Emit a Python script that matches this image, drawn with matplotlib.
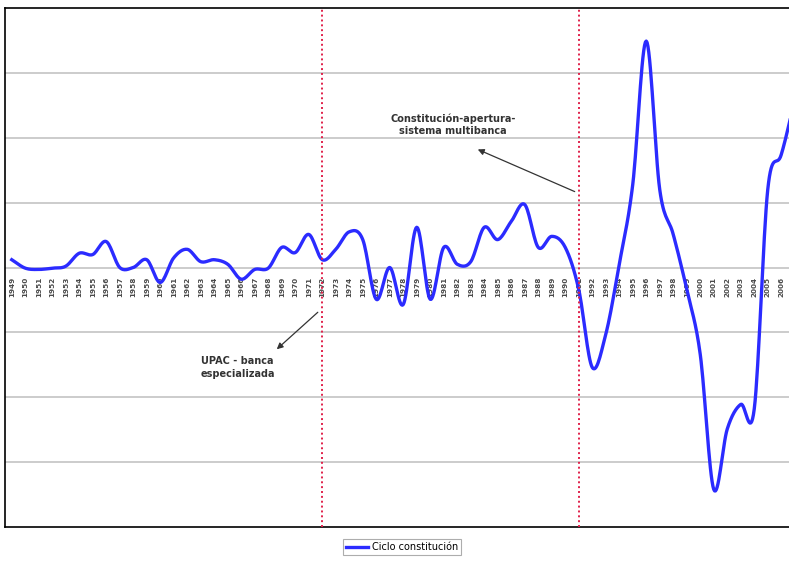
import numpy as np
import matplotlib.pyplot as plt

# Yearly cycle values (units = grid steps)
years = list(range(1949, 2008))
ciclo = [0.12, -0.01, -0.03, -0.01, 0.02, 0.22, 0.20, 0.40, 0.00, 0.00,
         0.12, -0.23, 0.15, 0.28, 0.09, 0.12, 0.05, -0.18, -0.03, -0.01,
         0.31, 0.23, 0.51, 0.12, 0.28, 0.55, 0.43, -0.49, 0.00, -0.57,
         0.62, -0.49, 0.31, 0.05, 0.09, 0.62, 0.43, 0.71, 0.97, 0.31,
         0.48, 0.31, -0.34, -1.54, -1.03, 0.05, 1.28, 3.49, 1.20, 0.51,
         -0.34, -1.34, -3.42, -2.49, -2.11, -2.18, 1.20, 1.74, 2.58]
event_years = [1972, 1991]
event_texts = ['UPAC - banca\nespecializada', 'Constitución-apertura-\nsistema multibanca']
legend_label = 'Ciclo constitución'


def catmull_rom(x, y, n=16):
    # smoothed line like a spreadsheet "smoothed line" series
    x = np.asarray(x, float)
    y = np.asarray(y, float)
    px = np.concatenate([[2 * x[0] - x[1]], x, [2 * x[-1] - x[-2]]])
    py = np.concatenate([[2 * y[0] - y[1]], y, [2 * y[-1] - y[-2]]])
    xs, ys = [], []
    t = np.linspace(0, 1, n, endpoint=False)
    for i in range(1, len(px) - 2):
        for p, out in ((px, xs), (py, ys)):
            p0, p1, p2, p3 = p[i - 1], p[i], p[i + 1], p[i + 2]
            out.append(0.5 * ((2 * p1) + (-p0 + p2) * t
                              + (2 * p0 - 5 * p1 + 4 * p2 - p3) * t ** 2
                              + (-p0 + 3 * p1 - 3 * p2 + p3) * t ** 3))
    xs.append([x[-1]])
    ys.append([y[-1]])
    return np.concatenate(xs), np.concatenate(ys)


idx = np.arange(len(years))
sx, sy = catmull_rom(idx, ciclo)

fig = plt.figure(figsize=(7.89, 5.63), dpi=100)
W, H = 789, 563
# plot area is cut on the right side, like the source screenshot
ax = fig.add_axes([5 / W, 36 / H, 796.5 / W, 519 / H])

ax.set_xlim(-0.5, len(years) - 0.5)
ax.set_ylim(-4, 4)
for v in range(-3, 4):
    ax.axhline(v, color='#c4c4c4', lw=1.2, zorder=1)

ax.plot(sx, sy, color='#2b2bff', lw=2.4, zorder=3, label=legend_label)

for ey in event_years:
    ax.axvline(years.index(ey), color='#e0204a', lw=1.4, ls=(0, (1, 1.5)),
               zorder=4, clip_on=False)

# category labels sitting on the zero line
for i, yr in enumerate(years):
    ax.text(i, -0.14, str(yr), rotation=90, ha='center', va='top',
            fontsize=5.2, color='#4a4a4a', fontweight='bold', zorder=2)

# event notes: arrow head sits next to the note
ax.text(16.74, -1.54, event_texts[0], ha='center', va='center', fontsize=7,
        fontweight='bold', color='#333333', linespacing=1.3,
        multialignment='center')
ax.annotate('', xy=(19.63, -1.26), xytext=(22.67, -0.69),
            arrowprops=dict(arrowstyle='-|>', color='#333333', lw=0.9,
                            mutation_scale=9, shrinkA=0, shrinkB=0))
ax.text(32.67, 2.2, event_texts[1], ha='center', va='center', fontsize=7,
        fontweight='bold', color='#333333', linespacing=1.3,
        multialignment='center')
ax.annotate('', xy=(34.52, 1.82), xytext=(41.7, 1.17),
            arrowprops=dict(arrowstyle='-|>', color='#333333', lw=0.9,
                            mutation_scale=9, shrinkA=0, shrinkB=0))

ax.set_xticks([])
ax.set_yticks([])
for s in ['left', 'top', 'bottom']:
    ax.spines[s].set_color('black')
    ax.spines[s].set_linewidth(1.2)
ax.spines['right'].set_visible(False)

leg = fig.legend(loc='center', bbox_to_anchor=(402 / W, 1 - 547 / H),
                 fontsize=7, frameon=True, fancybox=False, handlelength=2.2,
                 borderpad=0.3, handletextpad=0.4)
leg.get_frame().set_edgecolor('#999999')
leg.get_frame().set_linewidth(0.8)

fig.savefig('out.png', dpi=100)
